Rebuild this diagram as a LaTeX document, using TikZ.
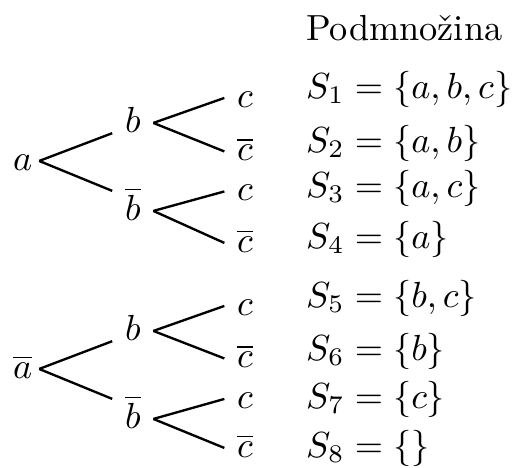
\documentclass[tikz,border=0pt]{standalone}
\usepackage{amsmath,amssymb}
\usepackage{tikz}

\begin{document}
\begin{tikzpicture}[x=0.2755pt,y=-0.2755pt,line width=0.65pt,
  lit/.style={anchor=base,inner xsep=3.2pt,inner ysep=0pt,text height=5pt,text depth=0pt},
  subset/.style={anchor=base west,inner sep=0pt}]
\useasboundingbox (0,0) rectangle (513,467);
% first choice
\node[lit,inner xsep=1.6pt] (a) at (22.6,170) {$a$};
\node[lit,inner xsep=1.6pt] (na) at (22.6,378) {$\overline{a}$};
% second choice
\node[lit] (ab) at (132.8,132) {$b$};
\node[lit] (anb) at (132.8,220) {$\overline{b}$};
\node[lit] (nab) at (132.8,340) {$b$};
\node[lit] (nanb) at (132.8,428) {$\overline{b}$};
% third choice
\node[lit] (c1) at (245,107) {$c$};
\node[lit] (c2) at (245,160.5) {$\overline{c}$};
\node[lit] (c3) at (245,200.5) {$c$};
\node[lit] (c4) at (245,252) {$\overline{c}$};
\node[lit] (c5) at (245,315) {$c$};
\node[lit] (c6) at (245,367.5) {$\overline{c}$};
\node[lit] (c7) at (245,408) {$c$};
\node[lit] (c8) at (245,457) {$\overline{c}$};
% branches
\draw (a.east) -- (ab.south west);
\draw (a.east) -- ([yshift=2.7pt]anb.north west);
\draw (na.east) -- (nab.south west);
\draw (na.east) -- ([yshift=2.7pt]nanb.north west);
\draw (ab.east) -- (c1.west);
\draw (ab.east) -- (c2.west);
\draw (anb.east) -- (c3.west);
\draw (anb.east) -- (c4.west);
\draw (nab.east) -- (c5.west);
\draw (nab.east) -- (c6.west);
\draw (nanb.east) -- (c7.west);
\draw (nanb.east) -- (c8.west);
% subsets
\node[subset] (head) at (305,40) {Podmnožina};
\node[subset] (s1) at (305,98) {$S_1=\{a,b,c\}$};
\node[subset] (s2) at (305,152) {$S_2=\{a,b\}$};
\node[subset] (s3) at (305,197) {$S_3=\{a,c\}$};
\node[subset] (s4) at (305,248) {$S_4=\{a\}$};
\node[subset] (s5) at (305,307) {$S_5=\{b,c\}$};
\node[subset] (s6) at (305,360) {$S_6=\{b\}$};
\node[subset] (s7) at (305,408) {$S_7=\{c\}$};
\node[subset] (s8) at (305,457) {$S_8=\{\}$};
\end{tikzpicture}
\end{document}
